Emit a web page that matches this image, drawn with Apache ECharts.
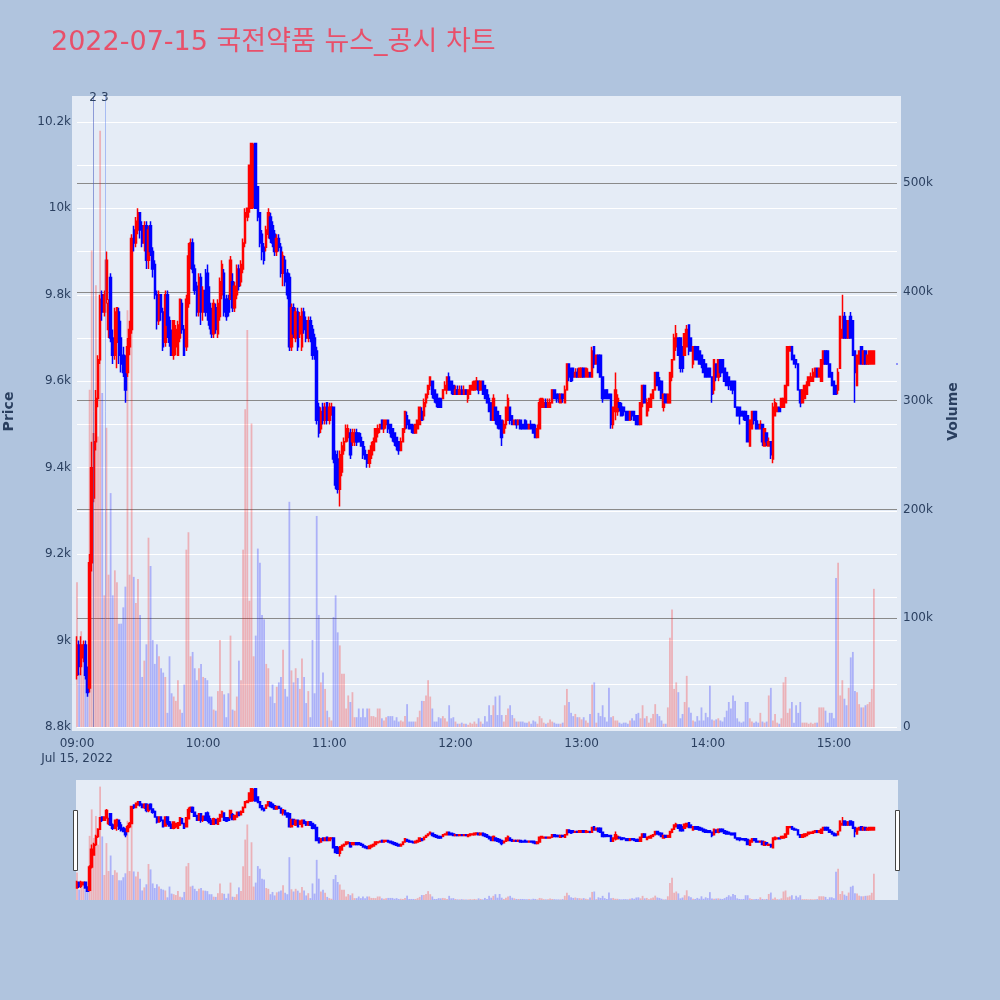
<!DOCTYPE html>
<html><head><meta charset="utf-8">
<script src="https://cdn.jsdelivr.net/npm/echarts@6/dist/echarts.min.js"></script>
<style>html,body{margin:0;padding:0;background:#B0C4DE}#c{width:1000px;height:1000px}</style>
</head><body><div id="c"></div>
<script>
const TITLE = '2022-07-15 국전약품 뉴스_공시 차트';
const SESSION_START = '09:00';
const CLOSE_AUCTION = '15:30';
const DATE_LABEL = 'Jul 15, 2022';
const xTickLabels = ['09:00','10:00','11:00','12:00','13:00','14:00','15:00'];
const newsMarks = [{label:'2', time:'09:07:36'}, {label:'3', time:'09:13:12'}];

// one row per minute from 09:00: [open, close, low, high]
const ohlc = [
[8920,8990,8910,9010],[8990,8940,8920,9000],[8940,8990,8920,9010],[8960,8990,8950,9000],[8990,8920,8910,9000],
[8920,8880,8870,8940],[8890,9180,8880,9200],[9180,9400,9160,9460],[9330,9460,9320,9480],[9460,9560,9440,9580],
[9560,9650,9540,9660],[9650,9790,9640,9800],[9800,9760,9740,9810],[9760,9800,9750,9810],[9790,9880,9780,9900],
[9720,9780,9700,9790],[9840,9700,9690,9850],[9700,9660,9640,9720],[9660,9760,9650,9770],[9690,9770,9630,9770],
[9760,9660,9640,9770],[9700,9640,9620,9740],[9660,9620,9610,9680],[9640,9580,9550,9660],[9620,9680,9610,9700],
[9680,9720,9660,9740],[9720,9930,9710,9940],[9950,9920,9900,9960],[9920,9970,9910,9980],[9950,9990,9940,10000],
[9990,9950,9930,9990],[9960,9920,9910,9970],[9920,9960,9900,9970],[9960,9880,9860,9970],[9880,9950,9860,9960],
[9960,9900,9890,9970],[9900,9860,9840,9910],[9870,9800,9790,9880],[9800,9740,9720,9810],[9740,9800,9730,9810],
[9800,9760,9740,9800],[9760,9680,9670,9770],[9690,9800,9680,9810],[9800,9730,9700,9810],[9740,9690,9680,9750],
[9700,9660,9660,9720],[9660,9740,9650,9740],[9680,9720,9660,9730],[9660,9730,9660,9740],[9700,9790,9690,9790],
[9780,9720,9710,9790],[9720,9660,9660,9730],[9680,9790,9670,9800],[9780,9890,9770,9920],[9870,9920,9860,9930],
[9920,9860,9850,9930],[9860,9810,9800,9870],[9820,9760,9750,9830],[9760,9840,9750,9850],[9840,9760,9730,9850],
[9760,9810,9740,9820],[9810,9760,9750,9860],[9850,9760,9740,9870],[9780,9730,9720,9820],[9750,9710,9700,9770],
[9710,9780,9700,9790],[9770,9720,9710,9780],[9710,9780,9700,9790],[9750,9830,9740,9840],[9800,9870,9790,9880],
[9850,9760,9750,9860],[9790,9750,9740,9800],[9790,9760,9750,9800],[9790,9880,9790,9890],[9830,9770,9760,9850],
[9770,9820,9760,9830],[9800,9860,9790,9870],[9860,9820,9810,9870],[9830,9870,9820,9880],[9860,9920,9850,9930],
[9920,9990,9910,10000],[9980,10000,9970,10000],[10000,10100,9990,10100],[10000,10150,10000,10150],[10050,10100,10000,10150],
[10150,10000,10000,10150],[10050,9980,9970,10050],[9990,9920,9910,9990],[9940,9900,9880,9950],[9910,9880,9870,9920],
[9910,9950,9900,9960],[9940,9990,9930,10000],[9980,9930,9920,9990],[9960,9920,9910,9970],[9940,9900,9890,9950],
[9900,9930,9890,9940],[9930,9910,9900,9940],[9910,9850,9840,9920],[9850,9890,9820,9900],[9880,9830,9820,9890],
[9850,9800,9790,9860],[9840,9680,9670,9850],[9680,9770,9670,9780],[9770,9710,9700,9780],[9700,9760,9690,9770],
[9760,9680,9670,9770],[9710,9750,9700,9760],[9680,9760,9670,9770],[9760,9720,9710,9770],[9740,9700,9690,9750],
[9700,9740,9690,9750],[9740,9700,9690,9750],[9720,9660,9650,9730],[9700,9670,9650,9710],[9670,9510,9500,9680],
[9540,9480,9470,9550],[9490,9530,9480,9540],[9540,9510,9500,9550],[9510,9540,9500,9550],[9550,9510,9500,9550],
[9510,9540,9500,9550],[9530,9540,9520,9550],[9540,9420,9410,9540],[9430,9360,9350,9440],[9420,9350,9340,9440],
[9350,9430,9310,9440],[9390,9450,9380,9460],[9440,9460,9430,9470],[9460,9490,9460,9500],[9470,9490,9460,9500],
[9480,9430,9420,9490],[9460,9480,9450,9490],[9460,9480,9450,9490],[9480,9460,9450,9490],[9480,9460,9460,9480],
[9470,9450,9450,9480],[9460,9430,9420,9460],[9440,9420,9420,9450],[9430,9410,9400,9430],[9410,9440,9400,9440],
[9430,9450,9420,9460],[9440,9460,9440,9470],[9460,9490,9460,9490],[9480,9490,9470,9500],[9490,9500,9480,9500],
[9510,9490,9490,9510],[9490,9510,9480,9510],[9500,9510,9490,9510],[9510,9490,9480,9510],[9500,9480,9470,9500],
[9490,9470,9460,9490],[9480,9460,9450,9480],[9470,9450,9440,9470],[9460,9440,9430,9460],[9440,9460,9440,9470],
[9460,9490,9460,9490],[9490,9530,9480,9530],[9520,9500,9490,9530],[9510,9490,9490,9510],[9500,9490,9480,9500],
[9490,9480,9480,9500],[9480,9500,9480,9500],[9490,9510,9490,9510],[9500,9540,9500,9540],[9530,9510,9510,9540],
[9520,9550,9510,9560],[9550,9570,9540,9570],[9570,9590,9560,9590],[9590,9610,9580,9610],[9600,9570,9560,9600],
[9580,9560,9550,9580],[9570,9550,9540,9570],[9560,9540,9540,9560],[9560,9540,9540,9560],[9560,9580,9560,9580],
[9580,9590,9580,9600],[9580,9610,9570,9610],[9610,9580,9580,9620],[9600,9580,9570,9600],[9590,9570,9570,9590],
[9570,9580,9570,9590],[9580,9570,9570,9590],[9570,9580,9570,9590],[9580,9570,9570,9590],[9570,9580,9570,9590],
[9580,9570,9570,9580],[9560,9580,9550,9580],[9570,9590,9570,9590],[9580,9590,9580,9600],[9580,9600,9580,9600],
[9590,9600,9580,9610],[9600,9580,9570,9600],[9580,9600,9580,9600],[9600,9570,9570,9600],[9590,9560,9560,9590],
[9580,9550,9550,9580],[9560,9530,9530,9570],[9550,9510,9510,9550],[9510,9560,9510,9570],[9540,9510,9500,9540],
[9530,9500,9490,9530],[9520,9490,9490,9520],[9510,9470,9450,9510],[9480,9500,9480,9510],[9500,9540,9490,9540],
[9510,9560,9510,9570],[9540,9510,9500,9540],[9520,9500,9500,9520],[9500,9510,9500,9510],[9510,9500,9490,9510],
[9500,9510,9500,9510],[9510,9490,9490,9510],[9500,9490,9490,9500],[9510,9490,9490,9510],[9500,9490,9490,9510],
[9490,9500,9490,9500],[9500,9490,9490,9510],[9500,9480,9480,9500],[9490,9470,9470,9500],[9470,9490,9470,9500],
[9490,9550,9490,9560],[9540,9560,9540,9560],[9540,9550,9540,9560],[9550,9540,9540,9560],[9540,9550,9540,9560],
[9540,9550,9540,9560],[9550,9580,9550,9580],[9580,9560,9560,9580],[9570,9560,9550,9570],[9570,9560,9550,9570],
[9550,9570,9550,9570],[9570,9560,9550,9570],[9550,9580,9550,9590],[9580,9640,9580,9640],[9640,9610,9600,9640],
[9630,9600,9600,9630],[9630,9610,9600,9630],[9610,9620,9610,9630],[9620,9610,9610,9630],[9610,9630,9610,9630],
[9610,9630,9610,9630],[9630,9610,9610,9630],[9610,9630,9610,9630],[9610,9620,9610,9630],[9620,9610,9610,9620],
[9610,9670,9610,9680],[9680,9640,9630,9680],[9640,9660,9640,9660],[9660,9620,9620,9660],[9660,9610,9610,9660],
[9610,9560,9550,9610],[9580,9560,9560,9580],[9580,9560,9560,9580],[9570,9560,9560,9570],[9570,9500,9490,9570],
[9500,9540,9490,9540],[9530,9580,9510,9620],[9530,9560,9520,9570],[9550,9540,9530,9550],[9540,9520,9520,9550],
[9540,9530,9520,9540],[9530,9510,9510,9530],[9530,9510,9510,9530],[9510,9530,9510,9530],[9530,9520,9510,9530],
[9530,9510,9510,9530],[9520,9500,9500,9520],[9520,9500,9500,9520],[9500,9550,9500,9550],[9550,9590,9540,9590],
[9590,9550,9550,9590],[9520,9550,9520,9560],[9540,9560,9530,9560],[9540,9570,9540,9570],[9560,9580,9560,9580],
[9580,9620,9580,9620],[9620,9590,9590,9620],[9600,9580,9580,9610],[9600,9560,9560,9600],[9540,9570,9530,9570],
[9570,9550,9550,9570],[9550,9570,9550,9570],[9550,9620,9550,9620],[9610,9650,9600,9650],[9650,9700,9650,9710],
[9680,9710,9670,9730],[9700,9660,9660,9700],[9700,9630,9620,9700],[9680,9630,9620,9680],[9660,9710,9660,9710],
[9680,9720,9680,9730],[9730,9670,9660,9730],[9700,9670,9670,9700],[9640,9680,9630,9680],[9680,9650,9650,9680],
[9680,9650,9650,9680],[9670,9640,9640,9670],[9660,9640,9630,9660],[9650,9620,9620,9650],[9640,9610,9610,9640],
[9630,9610,9610,9630],[9630,9610,9610,9630],[9610,9570,9550,9610],[9580,9650,9570,9650],[9640,9610,9600,9640],
[9610,9650,9600,9650],[9650,9620,9610,9650],[9650,9620,9620,9650],[9630,9600,9600,9630],[9620,9590,9590,9620],
[9610,9590,9580,9610],[9600,9580,9580,9600],[9600,9580,9570,9600],[9600,9540,9540,9600],[9540,9520,9520,9540],
[9540,9520,9500,9540],[9530,9520,9520,9530],[9530,9520,9510,9530],[9530,9510,9510,9530],[9520,9460,9460,9520],
[9450,9510,9450,9510],[9490,9530,9490,9530],[9530,9510,9500,9530],[9530,9490,9490,9530],[9500,9490,9490,9510],
[9490,9500,9490,9510],[9500,9460,9450,9500],[9450,9490,9450,9490],[9480,9460,9450,9480],[9450,9460,9450,9470],
[9460,9430,9420,9460],[9420,9540,9410,9550],[9520,9550,9520,9560],[9530,9540,9530,9550],[9540,9530,9530,9540],
[9540,9560,9540,9560],[9540,9560,9540,9560],[9550,9590,9550,9590],[9590,9680,9590,9680],[9670,9680,9670,9680],
[9680,9650,9650,9680],[9660,9640,9640,9660],[9650,9640,9630,9650],[9640,9580,9580,9640],[9580,9550,9540,9580],
[9550,9580,9550,9580],[9560,9590,9560,9590],[9570,9590,9570,9600],[9590,9610,9590,9610],[9600,9610,9600,9620],
[9600,9620,9600,9630],[9610,9630,9610,9630],[9630,9610,9610,9630],[9610,9630,9610,9630],[9600,9650,9600,9650],
[9640,9670,9640,9670],[9670,9640,9640,9670],[9670,9640,9640,9670],[9640,9610,9610,9640],[9620,9590,9590,9620],
[9600,9570,9570,9600],[9590,9570,9570,9590],[9580,9620,9570,9630],[9630,9750,9630,9750],[9700,9720,9700,9800],
[9750,9700,9700,9760],[9740,9700,9700,9740],[9700,9740,9700,9740],[9750,9700,9700,9760],[9740,9660,9660,9740],
[9670,9620,9550,9670],[9590,9660,9590,9660],[9640,9670,9640,9670],[9680,9640,9640,9680],[9640,9670,9640,9670],
[9670,9640,9640,9670],[9640,9660,9640,9660],[9640,9670,9640,9670],[9640,9670,9640,9670],[9640,9670,9640,9670]
];
const closeAuctionOHLC = [9640, 9640, 9640, 9640];

// volume per minute, thousands of shares
const volumeK = [
133,50,88,76,54,46,310,438,300,406,267,548,307,121,275,140,215,121,144,133,
95,95,110,129,383,140,383,138,114,136,103,46,61,76,174,148,80,58,76,65,
54,50,46,13,65,31,28,24,43,16,13,39,163,179,65,69,54,43,54,58,
46,45,43,28,28,16,15,33,80,33,30,9,31,84,16,15,28,61,43,163,
292,365,116,279,65,84,164,151,103,99,58,54,28,39,22,37,41,46,71,35,
28,207,52,41,54,45,35,63,46,22,33,9,80,31,194,103,41,50,35,15,
9,6,101,121,87,75,49,49,17,29,23,32,9,9,17,9,17,9,17,17,
10,10,9,17,17,8,6,9,10,10,10,6,9,5,6,5,10,21,5,5,
5,5,9,15,24,24,29,43,28,17,5,5,9,8,10,8,5,20,8,9,
5,3,3,4,3,3,2,4,3,5,3,8,5,3,10,5,20,11,20,28,
11,29,11,5,11,17,20,11,8,5,5,5,5,4,4,5,3,6,5,3,
10,8,4,3,4,7,5,4,3,3,3,4,20,35,23,13,10,12,9,9,
7,9,6,4,12,39,41,4,13,10,20,9,5,36,9,10,6,6,4,3,
4,4,3,6,8,6,12,13,8,20,8,10,4,8,12,21,12,10,6,3,
3,18,82,108,35,41,32,8,12,23,47,18,13,6,5,10,6,18,6,13,
9,38,7,6,7,8,6,5,9,15,23,17,29,24,8,5,4,5,23,23,
8,5,4,5,4,13,5,4,5,29,36,6,12,4,3,8,41,46,13,17,
23,4,20,13,23,4,4,4,3,4,3,4,4,18,18,18,15,4,13,13,
8,137,151,29,43,26,20,36,64,69,33,32,21,18,18,20,21,23,35
];
const closeAuctionVolumeK = 127;

function toMin(t){const p=t.split(':').map(Number);return p[0]*60+p[1]+(p[2]||0)/60;}
const t0 = toMin(SESSION_START);
const xs = ohlc.map((_, i) => i);
const allX = xs.concat([toMin(CLOSE_AUCTION) - t0]);
const allOHLC = ohlc.concat([closeAuctionOHLC]);
const allVol = volumeK.slice(0, ohlc.length).concat([closeAuctionVolumeK]);

const UP = '#FF0000', DOWN = '#0000FF';
const VUP = 'rgba(255,0,0,0.25)', VDOWN = 'rgba(0,0,255,0.25)';
const candleData = allOHLC.map((r, i) => [allX[i], r[0], r[1], r[2], r[3]]);
const volData = allVol.map((v, i) => [allX[i], v, allOHLC[i][1] > allOHLC[i][0] ? 1 : 0]);

const FONT = 'DejaVu Sans, sans-serif';
const AXC = '#2a3f5f';
const chart = echarts.init(document.getElementById('c'), null, {renderer:'canvas', width:1000, height:1000});
const candleStyle = { color: UP, color0: DOWN, borderColor: UP, borderColor0: DOWN, borderWidth: 1.5 };
const BAR_W = 1.8;
function volRender(params, api) {
  const x = api.value(0), v = api.value(1), up = api.value(2);
  const top = api.coord([x, v]), base = api.coord([x, 0]);
  return { type: 'rect', shape: { x: top[0] - BAR_W / 2, y: top[1], width: BAR_W, height: base[1] - top[1] },
    style: { fill: up ? VUP : VDOWN } };
}

chart.setOption({
  animation: false,
  backgroundColor: '#B0C4DE',
  title: { text: TITLE, left: 46, top: 24,
    textStyle: { color: '#E8506A', fontSize: 27, fontWeight: 'normal', fontFamily: 'DejaVu Sans, Noto Sans CJK KR, sans-serif' } },
  graphic: [
    { type: 'rect', z: -10, shape: { x: 72, y: 96, width: 829, height: 635 }, style: { fill: '#E5ECF6' } },
    { type: 'rect', z: -10, shape: { x: 76, y: 780, width: 822, height: 120 }, style: { fill: '#E5ECF6' } },
    { type: 'rect', z: 100, shape: { x: 73.5, y: 810.5, width: 4, height: 60 }, style: { fill: '#fff', stroke: '#444', lineWidth: 1 } },
    { type: 'rect', z: 100, shape: { x: 895.5, y: 810.5, width: 4, height: 60 }, style: { fill: '#fff', stroke: '#444', lineWidth: 1 } }
  ],
  grid: [
    { left: 77, right: 103, top: 96, bottom: 273, outerBoundsMode: 'none', containLabel: false },
    { left: 77, right: 103, top: 780, bottom: 100, outerBoundsMode: 'none', containLabel: false }
  ],
  xAxis: [
    { type: 'value', gridIndex: 0, min: 0, max: 390, interval: 60,
      axisLine: { show: false }, axisTick: { show: false }, splitLine: { show: false },
      axisLabel: { showMaxLabel: false, color: AXC, fontSize: 12, fontFamily: FONT, margin: 9, lineHeight: 15,
        formatter: v => { const idx = Math.round(v / 60); const s = xTickLabels[idx] || ''; return v === 0 ? s + '\n' + DATE_LABEL : s; } } },
    { type: 'value', gridIndex: 1, min: 0, max: 390, show: false }
  ],
  yAxis: [
    { type: 'value', gridIndex: 0, position: 'left', min: 8800, max: 10260, interval: 100,
      name: 'Price', nameLocation: 'middle', nameGap: 61, nameRotate: 90,
      nameTextStyle: { color: AXC, fontSize: 14, fontWeight: 'bold', fontFamily: FONT },
      axisLine: { show: false }, axisTick: { show: false },
      splitLine: { show: true, showMaxLine: false, lineStyle: { color: '#FFFFFF', width: 1 } },
      axisLabel: { color: AXC, fontSize: 12, fontFamily: FONT, margin: 6, showMaxLabel: false,
        formatter: v => (Math.round(v) % 200 !== 0) ? '' : (v / 1000) + 'k' } },
    { type: 'value', gridIndex: 0, position: 'right', min: 0, max: 580, interval: 100,
      name: 'Volume', nameLocation: 'middle', nameGap: 49, nameRotate: 90,
      nameTextStyle: { color: AXC, fontSize: 14, fontWeight: 'bold', fontFamily: FONT },
      axisLine: { show: false }, axisTick: { show: false },
      splitLine: { show: true, showMinLine: false, showMaxLine: false, lineStyle: { color: '#8a8a8a', width: 1 } },
      axisLabel: { color: AXC, fontSize: 12, fontFamily: FONT, margin: 6, showMaxLabel: false,
        formatter: v => v === 0 ? '0' : (v % 100 === 0 ? v + 'k' : '') } },
    { type: 'value', gridIndex: 1, min: 8770, max: 10260, show: false },
    { type: 'value', gridIndex: 1, min: 0, max: 580, show: false }
  ],
  series: [
    { type: 'custom', name: 'vol', xAxisIndex: 0, yAxisIndex: 1, data: volData, renderItem: volRender, clip: false, z: 1,
      encode: { x: 0, y: 1 } },
    { type: 'candlestick', name: 'price', xAxisIndex: 0, yAxisIndex: 0, data: candleData, barWidth: 2, clip: false, z: 3,
      itemStyle: candleStyle,
      markLine: { symbol: 'none', silent: true, animation: false,
        label: { show: true, position: 'end', distance: -8, formatter: '{b}', color: AXC, fontSize: 12, fontFamily: FONT },
        data: newsMarks.map((n, i) => ({ name: n.label, xAxis: toMin(n.time) - t0,
          lineStyle: { color: i === 0 ? 'rgba(70,90,190,0.55)' : 'rgba(90,130,240,0.45)', width: 1, type: 'solid' } })) } },
    { type: 'custom', name: 'vol2', xAxisIndex: 1, yAxisIndex: 3, data: volData, renderItem: volRender, z: 1,
      encode: { x: 0, y: 1 } },
    { type: 'candlestick', name: 'price2', xAxisIndex: 1, yAxisIndex: 2, data: candleData, barWidth: 2, z: 3,
      itemStyle: candleStyle }
  ]
});
</script></body></html>
